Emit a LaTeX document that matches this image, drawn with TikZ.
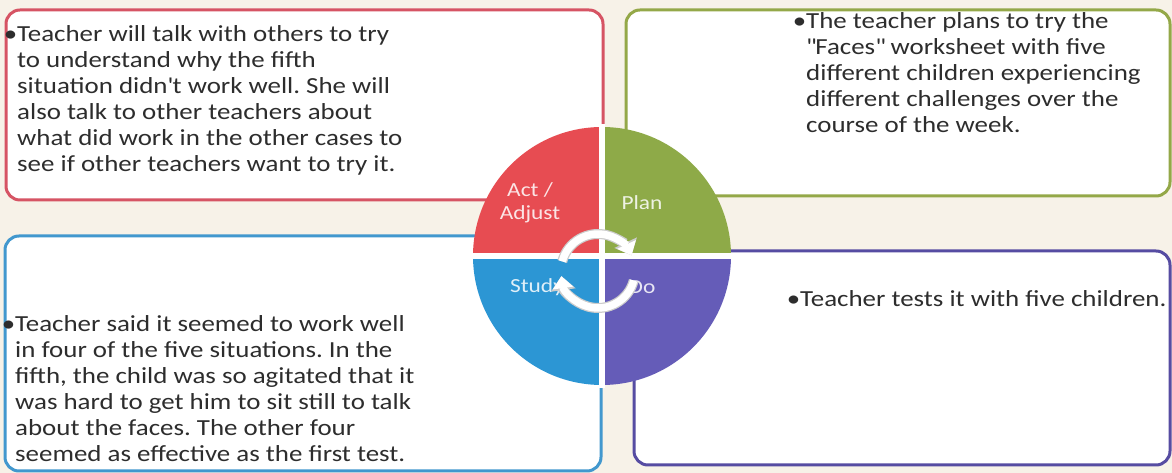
\documentclass[tikz,border=0pt]{standalone}
\usepackage{fontspec}
\setmainfont{Carlito}[FakeStretch=1.17]
\frenchspacing
\usetikzlibrary{arrows.meta}
\definecolor{paper}{RGB}{247,242,232}
\definecolor{inkgray}{RGB}{45,45,45}
\definecolor{actred}{RGB}{231,76,82}
\definecolor{plangreen}{RGB}{142,170,72}
\definecolor{studyblue}{RGB}{44,150,212}
\definecolor{dopurple}{RGB}{101,92,184}
\definecolor{actline}{RGB}{214,84,100}
\definecolor{planline}{RGB}{148,168,72}
\definecolor{studyline}{RGB}{66,152,206}
\definecolor{doline}{RGB}{86,76,162}
\tikzset{
	notebox/.style = {draw=#1, line width=3pt, rounded corners=14pt, fill=white, inner sep=0pt},
	notetext/.style = {anchor=north west, align=left, inner sep=0pt, text=inkgray, font=\fontsize{23}{26}\selectfont},
	quarterlabel/.style = {align=center, inner sep=0pt, text=white, text opacity=0.85, font=\fontsize{20}{23}\selectfont},
	cyclerim/.style = {line width=10pt, draw=black!20, -{Triangle[length=14pt, width=24pt]}},
	cyclearrow/.style = {line width=7.5pt, draw=white, -{Triangle[length=12pt, width=20pt]}}
}

\begin{document}
\begin{tikzpicture}[x=1pt, y=1pt]
		\path[use as bounding box, fill=paper] (0,0) rectangle (1172,473);
		% the four note boxes
		\node [notebox=actline, minimum width=597pt, minimum height=190pt] (actbox) at (304.5,368) {};
		\node [notebox=planline, minimum width=544pt, minimum height=186pt] (planbox) at (898,370) {};
		\node [notebox=studyline, minimum width=596pt, minimum height=235pt] (studybox) at (303,119.5) {};
		\node [notebox=doline, minimum width=536pt, minimum height=214pt] (dobox) at (902,115) {};
		\node [notetext] (acttext) at (17,448) {\llap{•}Teacher will talk with others to try\\to understand why the fifth\\situation didn\textquotesingle t work well. She will\\also talk to other teachers about\\what did work in the other cases to\\see if other teachers want to try it.};
		\node [notetext] (plantext) at (806,461) {\llap{•}The teacher plans to try the\\\textquotedbl Faces\textquotedbl{} worksheet with five\\different children experiencing\\different challenges over the\\course of the week.};
		\node [notetext] (studytext) at (15,157.5) {\llap{•}Teacher said it seemed to work well\\in four of the five situations. In the\\fifth, the child was so agitated that it\\was hard to get him to sit still to talk\\about the faces. The other four\\seemed as effective as the first test.};
		\node [notetext] (dotext) at (800,182.5) {\llap{•}Teacher tests it with five children.};
		% the cycle wheel
		\coordinate (ctr) at (602,217);
		\foreach \clr [count=\q from 0] in {plangreen, actred, studyblue, dopurple}
			\fill[\clr] (ctr) -- ++(\q*90:129) arc[start angle=\q*90, delta angle=90, radius=129] -- cycle;
		\draw[white, line width=6pt] ([xshift=-132pt]ctr) -- ([xshift=132pt]ctr);
		\draw[white, line width=6pt] ([yshift=-132pt]ctr) -- ([yshift=132pt]ctr);
		\node [quarterlabel] (actlabel) at (530,270) {Act /\\Adjust};
		\node [quarterlabel] (planlabel) at (642,270) {Plan};
		\node [quarterlabel] (studylabel) at (537,186) {Study};
		\node [quarterlabel] (dolabel) at (642,186) {Do};
		\coordinate (hub) at (598,202);
		\foreach \a/\b in {165/25, -15/-172}{
			\draw[cyclerim] ([shift={(\a:37)}]hub) arc[start angle=\a, end angle=\b, radius=37];
			\draw[cyclearrow] ([shift={(\a:37)}]hub) arc[start angle=\a, end angle=\b, radius=37];
		}
\end{tikzpicture}
\end{document}
